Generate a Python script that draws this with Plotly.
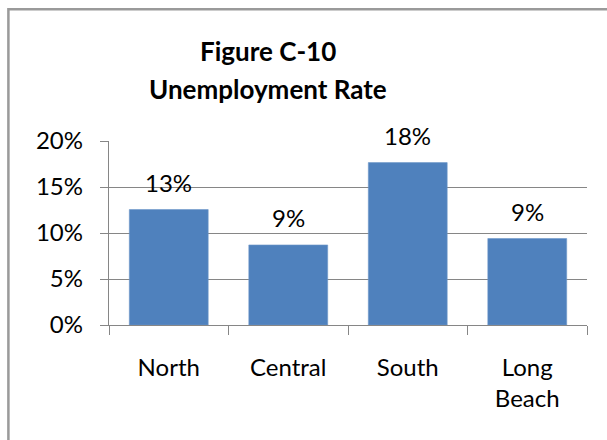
import plotly.graph_objects as go

# Unemployment rate by region
regions = ["North", "Central", "South", "Long<br>Beach"]
rates = [0.1255, 0.087, 0.1765, 0.094]
y_ticks = [0, 0.05, 0.10, 0.15, 0.20]
y_tick_labels = ["0%", "5%", "10%", "15%", "20%"]
title_lines = ["Figure C-10", "Unemployment Rate"]

BAR = "#4F81BD"
AXIS = "#868686"
FONT = "Lato"
SIZE = 24

fig = go.Figure(
    go.Bar(
        x=regions,
        y=rates,
        marker=dict(color=BAR, line=dict(color="#6f97c9", width=0.6)),
        hoverinfo="skip",
    )
)

# Value labels above each bar
for r, v in zip(regions, rates):
    fig.add_annotation(
        x=r, y=v, xref="x", yref="y",
        text=f"{v:.0%}", showarrow=False,
        yanchor="middle", yshift=27,
        font=dict(family=FONT, size=SIZE, color="#000000"),
    )

# Two-line bold title
for text, ypx in zip(title_lines, [51, 89]):
    fig.add_annotation(
        x=(268 - 109.3) / 478, y=(325.3 - ypx) / 184.3,
        xref="paper", yref="paper",
        text=f"<b>{text}</b>", showarrow=False,
        xanchor="center", yanchor="middle",
        font=dict(family=FONT, size=26, color="#000000"),
    )

# Chart frame
fig.add_shape(
    type="rect", xref="paper", yref="paper",
    x0=(8.7 - 109.3) / 478, x1=1.3,
    y0=-1.0, y1=(325.3 - 9) / 184.3,
    line=dict(color="#9a9a9a", width=2.5),
    fillcolor="rgba(0,0,0,0)", layer="below",
)

fig.update_layout(
    width=607, height=440,
    margin=dict(l=109, r=20, t=141, b=115, pad=0),
    paper_bgcolor="white", plot_bgcolor="white",
    showlegend=False,
    bargap=0.34,
    font=dict(family=FONT, size=SIZE, color="#000000"),
)

fig.update_xaxes(
    showline=True, linecolor=AXIS, linewidth=1.4,
    ticks="outside", ticklen=9, tickcolor=AXIS, tickwidth=1.4,
    tickson="boundaries", showgrid=False,
    ticklabelstandoff=21,
    tickfont=dict(family=FONT, size=SIZE, color="#000000"),
    fixedrange=True,
)

fig.update_yaxes(
    range=[0, 0.2],
    tickvals=y_ticks, ticktext=y_tick_labels,
    showline=True, linecolor=AXIS, linewidth=1.4,
    ticks="outside", ticklen=8, tickcolor=AXIS, tickwidth=1.4,
    showgrid=True, gridcolor=AXIS, gridwidth=1.4,
    zeroline=False,
    ticklabelstandoff=12,
    tickfont=dict(family=FONT, size=SIZE, color="#000000"),
    fixedrange=True,
)

fig.write_html("out.html")
